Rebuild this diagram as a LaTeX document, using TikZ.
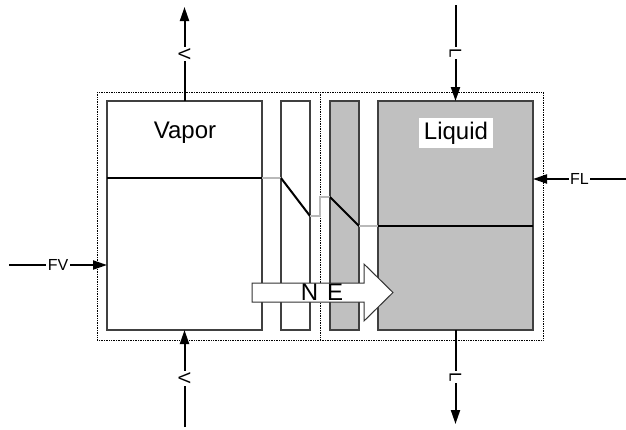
\documentclass[tikz,border=0pt]{standalone}
\usepackage{fontspec}
\setmainfont{Liberation Sans}
\usetikzlibrary{arrows.meta}
\definecolor{liqgray}{RGB}{192,192,192}
\definecolor{linkgray}{RGB}{185,185,185}
\begin{document}
\begin{tikzpicture}[x=1pt,y=-1pt,
  phase/.style={draw=black!75, line width=1.2pt, inner sep=0pt, outer sep=0pt, minimum height=229pt},
  zone/.style={densely dotted, line width=0.7pt},
  flow/.style={line width=2pt, -{Triangle[length=14pt,width=9pt]}},
  flowlabel/.style={fill=white, inner sep=1.5pt, font=\fontsize{16}{16}\selectfont},
  rotlabel/.style={fill=white, inner sep=1.5pt, rotate=-90, font=\fontsize{17}{17}\selectfont},
  level/.style={line width=2pt, black},
  link/.style={line width=2pt, linkgray},
  bigtext/.style={font=\fontsize{24}{24}\selectfont}]
\useasboundingbox (0,0) rectangle (626,429);
% zones
\draw[zone] (97,92) rectangle (543,340);
\draw[zone] (320,92) -- (320,340);
% phases
\node[phase, minimum width=155pt] (vap) at (184.5,215.5) {};
\node[phase, minimum width=29pt] (s1) at (295.5,215.5) {};
\node[phase, fill=liqgray, minimum width=29pt] (s2) at (344.5,215.5) {};
\node[phase, fill=liqgray, minimum width=155pt] (liq) at (455.5,215.5) {};
\node[bigtext] (vlab) at (185,133) {Vapor};
\node[bigtext, fill=white, inner sep=0pt, minimum width=74pt, minimum height=30pt] (llab) at (456,133) {Liquid};
% profile
\draw[level] (107,178) -- (262,178);
\draw[link] (262,178) -- (281,178);
\draw[level] (281,178) -- (310,216);
\draw[link] (310,216) -- (320,216) -- (320,197) -- (330,197);
\draw[level] (330,197) -- (359,226);
\draw[link] (359,226) -- (378,226);
\draw[level] (378,226) -- (533,226);
% NE arrow
\draw[draw=black!80, line width=1pt, fill=white] (252,283) -- (364,283) -- (364,264) -- (393,292.5) -- (364,321) -- (364,302) -- (252,302) -- cycle;
\node[bigtext] (ne) at (322,292.5) {N\hspace{9pt}E};
% flows
\coordinate (vtop) at (184.5,7);
\coordinate (ltop) at (455.5,5);
\coordinate (vbot) at (184.5,427);
\coordinate (lbot) at (455.5,424);
\coordinate (fvin) at (9,265);
\coordinate (flin) at (626,179);
\draw[flow] (vap.north) -- node[rotlabel] {V} (vtop);
\draw[flow] (ltop) -- node[rotlabel] {L} (liq.north);
\draw[flow] (vbot) -- node[rotlabel] {V} (vap.south);
\draw[flow] (liq.south) -- node[rotlabel] {L} (lbot);
\draw[flow] (fvin) -- node[flowlabel] {FV} (vap.west |- fvin);
\draw[flow] (flin) -- node[flowlabel] {FL} (liq.east |- flin);
\end{tikzpicture}
\end{document}
